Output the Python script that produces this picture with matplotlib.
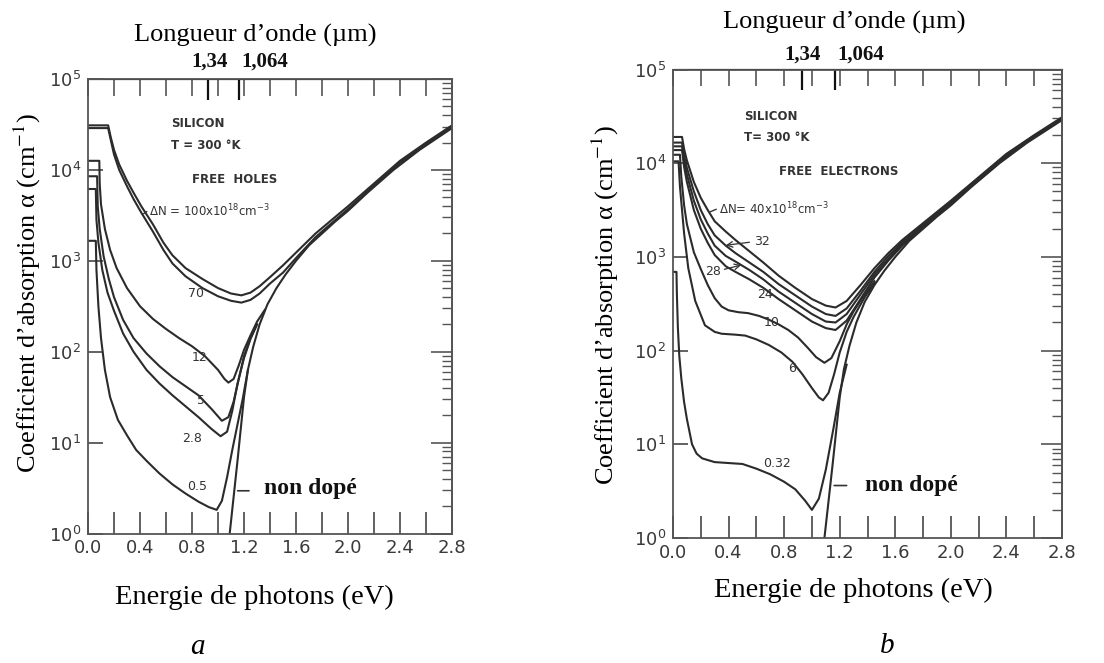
import numpy as np
import matplotlib
matplotlib.use("Agg")
import matplotlib.pyplot as plt
from matplotlib.transforms import blended_transform_factory

plt.rcParams['mathtext.fontset'] = 'stix'

# ---------------- data (log10 of alpha, cm^-1) ----------------
E_und = [1.09, 1.12, 1.15, 1.175, 1.20, 1.23, 1.27, 1.32, 1.38, 1.45, 1.52, 1.6, 1.7, 1.8, 1.9, 2.0, 2.15, 2.35, 2.55, 2.8]
L_und = [0.0, 0.4, 0.8, 1.15, 1.5, 1.8, 2.05, 2.3, 2.52, 2.7, 2.85, 3.0, 3.17, 3.3, 3.43, 3.55, 3.75, 4.0, 4.22, 4.46]

# panel a : free holes
Ea_100 = [0.0, 0.155, 0.175, 0.2, 0.24, 0.3, 0.35, 0.41, 0.5, 0.58, 0.65, 0.75, 0.88, 1.0, 1.1, 1.18, 1.25, 1.32, 1.4, 1.5, 1.6, 1.75, 2.0, 2.2, 2.4, 2.6, 2.8]
La_100 = [4.49, 4.49, 4.36, 4.22, 4.06, 3.88, 3.75, 3.6, 3.4, 3.2, 3.06, 2.92, 2.8, 2.7, 2.64, 2.62, 2.65, 2.72, 2.82, 2.95, 3.09, 3.3, 3.6, 3.85, 4.1, 4.3, 4.49]
Ea_70 = Ea_100
La_70 = [4.46, 4.46, 4.33, 4.17, 4.0, 3.82, 3.68, 3.53, 3.32, 3.12, 2.97, 2.83, 2.7, 2.61, 2.56, 2.54, 2.57, 2.64, 2.75, 2.87, 3.03, 3.26, 3.57, 3.83, 4.08, 4.28, 4.47]
Ea_12 = [0.0, 0.087, 0.09, 0.1, 0.13, 0.17, 0.22, 0.3, 0.4, 0.5, 0.6, 0.7, 0.8, 0.9, 1.0, 1.05, 1.08, 1.12, 1.16, 1.2, 1.25, 1.3, 1.36]
La_12 = [4.1, 4.1, 3.85, 3.62, 3.35, 3.12, 2.92, 2.7, 2.5, 2.36, 2.25, 2.15, 2.06, 1.95, 1.8, 1.7, 1.66, 1.7, 1.85, 2.02, 2.18, 2.33, 2.46]
Ea_5 = [0.0, 0.07, 0.075, 0.09, 0.12, 0.16, 0.2, 0.27, 0.35, 0.45, 0.55, 0.65, 0.75, 0.85, 0.95, 1.03, 1.08, 1.12, 1.16, 1.2, 1.25, 1.3]
La_5 = [3.93, 3.93, 3.6, 3.35, 3.05, 2.8, 2.6, 2.35, 2.15, 1.98, 1.84, 1.72, 1.62, 1.52, 1.37, 1.24, 1.28, 1.45, 1.7, 1.95, 2.15, 2.3]
Ea_28 = [0.0, 0.06, 0.065, 0.08, 0.11, 0.15, 0.2, 0.27, 0.35, 0.45, 0.55, 0.65, 0.75, 0.85, 0.95, 1.02, 1.07, 1.11, 1.15, 1.2, 1.25, 1.3]
La_28 = [3.79, 3.79, 3.45, 3.2, 2.9, 2.65, 2.45, 2.2, 2.0, 1.8, 1.65, 1.52, 1.4, 1.28, 1.15, 1.07, 1.12, 1.35, 1.65, 1.93, 2.14, 2.3]
Ea_05 = [0.0, 0.06, 0.065, 0.08, 0.1, 0.13, 0.17, 0.23, 0.3, 0.37, 0.45, 0.55, 0.65, 0.75, 0.85, 0.93, 0.99, 1.03, 1.07, 1.11, 1.15, 1.19, 1.23]
La_05 = [3.22, 3.22, 2.9, 2.5, 2.15, 1.8, 1.5, 1.25, 1.08, 0.92, 0.8, 0.66, 0.54, 0.44, 0.35, 0.29, 0.26, 0.36, 0.62, 0.92, 1.2, 1.48, 1.8]

# panel b : free electrons
Eb_grp = [0.0, 0.065, 0.08, 0.1, 0.15, 0.2, 0.25, 0.3, 0.38, 0.45, 0.55, 0.65, 0.76, 0.88, 1.0, 1.1, 1.17, 1.25, 1.35, 1.45, 1.55, 1.65, 1.8, 2.0, 2.2, 2.4, 2.6, 2.8]
Lb_40 = [4.28, 4.28, 4.15, 4.03, 3.8, 3.63, 3.5, 3.38, 3.27, 3.18, 3.06, 2.94, 2.8, 2.67, 2.55, 2.48, 2.46, 2.53, 2.7, 2.88, 3.04, 3.18, 3.36, 3.6, 3.85, 4.1, 4.3, 4.49]
Lb_32 = [4.22, 4.22, 4.08, 3.95, 3.7, 3.5, 3.35, 3.23, 3.12, 3.04, 2.94, 2.84, 2.71, 2.59, 2.47, 2.39, 2.37, 2.45, 2.64, 2.84, 3.01, 3.16, 3.34, 3.59, 3.84, 4.09, 4.29, 4.48]
Lb_28 = [4.18, 4.18, 4.02, 3.88, 3.6, 3.4, 3.25, 3.12, 3.01, 2.95, 2.86, 2.76, 2.63, 2.51, 2.39, 2.31, 2.30, 2.39, 2.6, 2.81, 2.98, 3.14, 3.33, 3.58, 3.83, 4.08, 4.28, 4.47]
Lb_24 = [4.14, 4.14, 3.96, 3.8, 3.5, 3.3, 3.15, 3.02, 2.9, 2.84, 2.76, 2.67, 2.55, 2.43, 2.31, 2.24, 2.22, 2.32, 2.55, 2.78, 2.96, 3.12, 3.32, 3.57, 3.82, 4.07, 4.28, 4.47]
Eb_10 = [0.0, 0.05, 0.06, 0.08, 0.1, 0.15, 0.2, 0.25, 0.3, 0.35, 0.4, 0.47, 0.54, 0.62, 0.69, 0.76, 0.83, 0.9, 0.97, 1.03, 1.09, 1.14, 1.2, 1.25, 1.3, 1.38, 1.45]
Lb_10 = [4.09, 4.09, 3.85, 3.55, 3.35, 3.05, 2.87, 2.7, 2.56, 2.47, 2.43, 2.41, 2.4, 2.37, 2.33, 2.28, 2.22, 2.14, 2.03, 1.93, 1.87, 1.92, 2.1, 2.28, 2.42, 2.6, 2.74]
Eb_6 = [0.0, 0.04, 0.05, 0.065, 0.08, 0.11, 0.16, 0.23, 0.3, 0.35, 0.45, 0.52, 0.6, 0.69, 0.78, 0.86, 0.93, 1.0, 1.05, 1.08, 1.12, 1.16, 1.2, 1.25, 1.3, 1.38, 1.45]
Lb_6 = [4.02, 4.02, 3.75, 3.5, 3.25, 2.88, 2.53, 2.27, 2.2, 2.18, 2.17, 2.16, 2.12, 2.06, 1.98, 1.88, 1.75, 1.6, 1.5, 1.47, 1.55, 1.75, 1.98, 2.2, 2.36, 2.57, 2.72]
Eb_032 = [0.0, 0.025, 0.028, 0.035, 0.045, 0.06, 0.08, 0.1, 0.137, 0.17, 0.21, 0.3, 0.4, 0.5, 0.6, 0.7, 0.8, 0.88, 0.95, 1.0, 1.05, 1.1, 1.155, 1.2, 1.25]
Lb_032 = [2.84, 2.84, 2.6, 2.25, 1.95, 1.7, 1.45, 1.27, 1.0, 0.9, 0.85, 0.81, 0.8, 0.79, 0.74, 0.68, 0.6, 0.52, 0.4, 0.3, 0.42, 0.73, 1.17, 1.55, 1.85]

wl_ticks = [1.34, 1.064]          # micrometres
wl_labels = ['1,34', '1,064']
x_ticks = [0.0, 0.2, 0.4, 0.6, 0.8, 1.0, 1.2, 1.4, 1.6, 1.8, 2.0, 2.2, 2.4, 2.6, 2.8]
y_decades = [0, 1, 2, 3, 4, 5]

# ---------------- figure ----------------
W, H = 1104, 663
fig = plt.figure(figsize=(W / 100, H / 100), dpi=100)
LC = '#2b2b2b'
SC = '#555555'
TC = '#3a3a3a'
SERIF = 'Liberation Serif'


def px(x, y):
    return x / W, 1 - y / H


def setup(ax, toplab_y):
    ax.set_yscale('log')
    ax.set_xlim(0, 2.8)
    ax.set_ylim(1, 1e5)
    for s in ax.spines.values():
        s.set_color(SC)
        s.set_linewidth(1.3)
    ax.set_xticks(x_ticks)
    ax.set_xticklabels([f'{v:.1f}' if i % 2 == 0 else '' for i, v in enumerate(x_ticks)])
    ax.set_yticks([10.0 ** d for d in y_decades])
    ax.set_yticklabels([r'$10^{%d}$' % d for d in y_decades])
    ax.yaxis.set_minor_locator(matplotlib.ticker.NullLocator())
    ax.tick_params(axis='x', direction='in', length=16, width=1.3, color=SC,
                   labelsize=13, labelcolor=TC, pad=4)
    ax.tick_params(axis='y', direction='in', length=11, width=1.3, color=SC,
                   labelsize=13, labelcolor=TC, pad=5)
    for t in ax.get_yticklabels():
        t.set_math_fontfamily('dejavusans')
    # top : regular energy ticks
    top = ax.secondary_xaxis('top')
    top.set_xticks(x_ticks)
    top.set_xticklabels([])
    top.tick_params(direction='in', length=12, width=1.2, color=SC)
    top.spines['top'].set_color(SC)
    # top : wavelength marks
    wl = ax.secondary_xaxis('top')
    wl.set_xticks([1.2398 / l for l in wl_ticks])
    wl.set_xticklabels([])
    wl.tick_params(direction='in', length=15, width=1.6, color='#111111')
    tr = blended_transform_factory(ax.transData, fig.transFigure)
    e1, e2 = [1.2398 / l for l in wl_ticks]
    ax.text(e1 + 0.01, 1 - toplab_y / H, wl_labels[0], transform=tr, ha='center', va='center',
            fontsize=15, fontweight='bold', family=SERIF, color='#111111')
    ax.text(e2 + 0.015, 1 - toplab_y / H, wl_labels[1], transform=tr, ha='left', va='center',
            fontsize=15, fontweight='bold', family=SERIF, color='#111111')
    # right : decade + minor ticks
    r = ax.secondary_yaxis('right')
    r.yaxis.set_major_locator(matplotlib.ticker.LogLocator(base=10, numticks=10))
    r.yaxis.set_minor_locator(matplotlib.ticker.LogLocator(base=10, subs=np.arange(2, 10), numticks=10))
    r.tick_params(which='major', direction='in', length=15, width=1.2, color=SC, labelright=False)
    r.tick_params(which='minor', direction='in', length=7, width=1.0, color=SC, labelright=False)
    r.spines['right'].set_color(SC)
    r.spines['right'].set_linewidth(1.3)


def curve(ax, E, L, lw=1.5):
    ax.plot(E, 10.0 ** np.asarray(L), color=LC, lw=lw, solid_joinstyle='round')


def small(ax, x, y, s, **kw):
    ax.text(x, 10 ** y, s, fontsize=kw.pop('fontsize', 8.5), color='#333333',
            family='DejaVu Sans', math_fontfamily='dejavusans', **kw)


# ---------- panel a ----------
axa = fig.add_axes([88 / W, 1 - 533.5 / H, (452 - 88) / W, (533.5 - 79) / H])
setup(axa, 62)
curve(axa, E_und, L_und)
for E, L in [(Ea_100, La_100), (Ea_70, La_70), (Ea_12, La_12), (Ea_5, La_5),
             (Ea_28, La_28), (Ea_05, La_05)]:
    curve(axa, E, L)
small(axa, 0.64, 4.51, 'SILICON', va='center', fontweight='bold')
small(axa, 0.64, 4.27, 'T = 300 °K', va='center', fontweight='bold')
small(axa, 0.80, 3.89, 'FREE  HOLES', va='center', fontweight='bold')
small(axa, 0.47, 3.55, r'$\Delta$N = 100x10$^{18}$cm$^{-3}$', va='center', fontsize=8.5)
axa.annotate('', xy=(0.41, 10 ** 3.5), xytext=(0.47, 10 ** 3.56),
             arrowprops=dict(arrowstyle='-', color='#333333', lw=1.0))
for (x, y, s) in [(0.83, 2.64, '70'), (0.86, 1.94, '12'), (0.87, 1.46, '5'),
                  (0.8, 1.05, '2.8'), (0.84, 0.52, '0.5')]:
    small(axa, x, y, s, va='center', ha='center', fontsize=9)
axa.text(1.35, 10 ** 0.5, 'non dopé', fontsize=17, fontweight='bold', family=SERIF,
         va='center', ha='left', color='#111111')
axa.annotate('', xy=(1.13, 10 ** 0.47), xytext=(1.26, 10 ** 0.47),
             arrowprops=dict(arrowstyle='-', color='#333333', lw=1.2))

# ---------- panel b ----------
axb = fig.add_axes([673 / W, 1 - 538 / H, (1062 - 673) / W, (538 - 69.5) / H])
setup(axb, 55)
curve(axb, E_und, L_und)
for L in [Lb_40, Lb_32, Lb_28, Lb_24]:
    curve(axb, Eb_grp, L)
curve(axb, Eb_10, Lb_10)
curve(axb, Eb_6, Lb_6)
curve(axb, Eb_032, Lb_032)
small(axb, 0.51, 4.5, 'SILICON', va='center', fontweight='bold')
small(axb, 0.51, 4.27, 'T= 300 °K', va='center', fontweight='bold')
small(axb, 0.76, 3.91, 'FREE  ELECTRONS', va='center', fontweight='bold')
small(axb, 0.33, 3.51, r'$\Delta$N= 40x10$^{18}$cm$^{-3}$', va='center', fontsize=8.5)
axb.annotate('', xy=(0.25, 10 ** 3.47), xytext=(0.33, 10 ** 3.52),
             arrowprops=dict(arrowstyle='-', color='#333333', lw=1.0))
small(axb, 0.58, 3.16, '32', va='center', fontsize=9)
axb.annotate('', xy=(0.36, 10 ** 3.12), xytext=(0.57, 10 ** 3.16),
             arrowprops=dict(arrowstyle='->', color='#333333', lw=0.9))
small(axb, 0.23, 2.84, '28', va='center', fontsize=9)
axb.annotate('', xy=(0.51, 10 ** 2.92), xytext=(0.35, 10 ** 2.86),
             arrowprops=dict(arrowstyle='->', color='#333333', lw=0.9))
small(axb, 0.66, 2.6, '24', va='center', ha='center', fontsize=9)
small(axb, 0.71, 2.3, '10', va='center', ha='center', fontsize=9)
small(axb, 0.86, 1.81, '6', va='center', ha='center', fontsize=9)
small(axb, 0.745, 0.79, '0.32', va='center', ha='center', fontsize=9)
axb.text(1.38, 10 ** 0.56, 'non dopé', fontsize=17, fontweight='bold', family=SERIF,
         va='center', ha='left', color='#111111')
axb.annotate('', xy=(1.14, 10 ** 0.56), xytext=(1.27, 10 ** 0.56),
             arrowprops=dict(arrowstyle='-', color='#333333', lw=1.2))

# ---------- outer labels ----------
for (x, y) in [(255, 35), (844, 22)]:
    fig.text(*px(x, y), 'Longueur d’onde (µm)', ha='center', va='center',
             fontsize=19, family=SERIF)
for (x, y) in [(254, 597), (853, 590)]:
    fig.text(*px(x, y), 'Energie de photons (eV)', ha='center', va='center',
             fontsize=20.5, family=SERIF)
for (x, y) in [(27, 293), (605, 305)]:
    fig.text(*px(x, y), 'Coefficient d’absorption α (cm$^{-1}$)', ha='center', va='center',
             rotation=90, fontsize=19, family=SERIF)
fig.text(*px(197, 647), 'a', ha='center', va='center', fontsize=21, family=SERIF, style='italic')
fig.text(*px(887, 646), 'b', ha='center', va='center', fontsize=21, family=SERIF, style='italic')

fig.savefig('out.png', dpi=100, facecolor='white')
